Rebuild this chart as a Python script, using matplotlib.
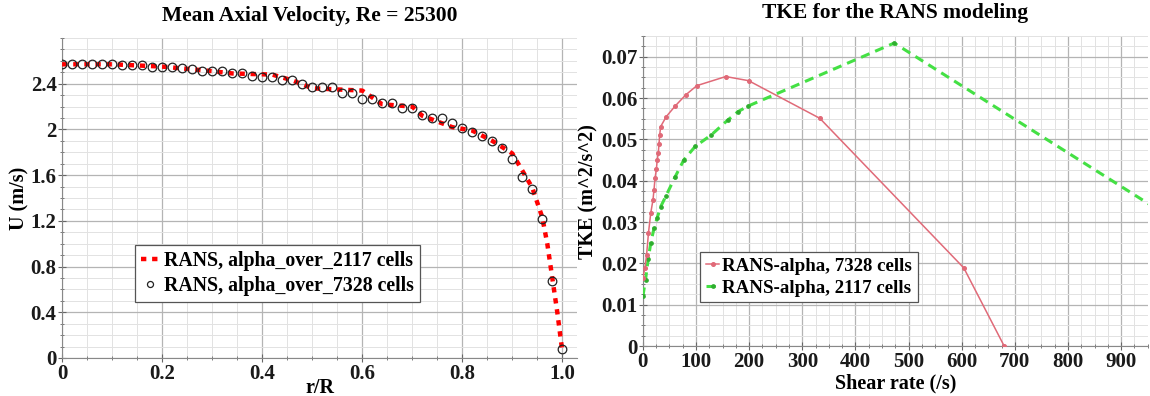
import matplotlib
matplotlib.use("Agg")
import matplotlib.pyplot as plt
from matplotlib.ticker import MultipleLocator

plt.rcParams['font.family'] = ['Liberation Serif', 'DejaVu Serif']
plt.rcParams['font.weight'] = 'bold'

# ---- left panel: mean axial velocity ----
r_7328 = [0.00, 0.02, 0.04, 0.06, 0.08, 0.10, 0.12, 0.14, 0.16, 0.18,
          0.20, 0.22, 0.24, 0.26, 0.28, 0.30, 0.32, 0.34, 0.36, 0.38,
          0.40, 0.42, 0.44, 0.46, 0.48, 0.50, 0.52, 0.54, 0.56, 0.58,
          0.60, 0.62, 0.64, 0.66, 0.68, 0.70, 0.72, 0.74, 0.76, 0.78,
          0.80, 0.82, 0.84, 0.86, 0.88, 0.90, 0.92, 0.94, 0.96, 0.98, 1.00]
u_7328 = [2.57, 2.57, 2.57, 2.57, 2.57, 2.57, 2.565, 2.56, 2.56, 2.55,
          2.55, 2.55, 2.54, 2.53, 2.51, 2.51, 2.51, 2.49, 2.49, 2.47,
          2.46, 2.46, 2.43, 2.43, 2.40, 2.37, 2.37, 2.37, 2.32, 2.32,
          2.27, 2.27, 2.23, 2.23, 2.19, 2.19, 2.13, 2.10, 2.10, 2.06,
          2.01, 1.98, 1.94, 1.90, 1.84, 1.74, 1.58, 1.48, 1.22, 0.67, 0.08]

r_2117 = [0.00, 0.10, 0.20, 0.30, 0.34, 0.42, 0.46, 0.50, 0.60, 0.64,
          0.70, 0.72, 0.78, 0.82, 0.86, 0.90, 0.94, 0.96, 0.97, 0.98, 0.99, 1.00]
u_2117 = [2.57, 2.57, 2.55, 2.51, 2.49, 2.48, 2.43, 2.36, 2.34, 2.22,
          2.20, 2.12, 2.02, 1.99, 1.90, 1.79, 1.49, 1.23, 1.00, 0.70, 0.40, 0.06]

# ---- right panel: TKE vs shear rate ----
shear_7328 = [0, 4, 7, 10.6, 15, 19, 21, 23, 25.5, 27, 29, 30.4, 31.7, 33.5,
              44, 61, 81, 101.6, 156, 199, 333, 604, 680]
tke_7328 = [0.0165, 0.019, 0.022, 0.0274, 0.0323, 0.0353, 0.0378, 0.0407,
            0.0428, 0.045, 0.0466, 0.0489, 0.0511, 0.0531, 0.0555, 0.0581,
            0.0608, 0.063, 0.0652, 0.0642, 0.0551, 0.0189, 0.0]

shear_2117 = [0, 5, 10, 15, 21, 27, 33.5, 43, 61, 77, 98.5, 129, 160, 179,
              197, 473, 1000]
tke_2117 = [0.012, 0.016, 0.021, 0.025, 0.0285, 0.031, 0.0337, 0.0362,
            0.041, 0.045, 0.0483, 0.0511, 0.0547, 0.0567, 0.058, 0.0733, 0.0305]

fig = plt.figure(figsize=(11.5, 3.96), dpi=100)
ax1 = fig.add_axes([0.054, 0.096, 0.448, 0.808])
ax2 = fig.add_axes([0.559, 0.126, 0.439, 0.783])


def style_grid(ax):
    ax.grid(True, which='major', color='#b4b4b4', linewidth=0.9)
    ax.grid(True, which='minor', color='#e2e2e2', linewidth=0.7)
    ax.set_axisbelow(True)
    for side in ('top', 'right'):
        ax.spines[side].set_visible(False)
    ax.spines['left'].set_color('#888888')
    ax.spines['bottom'].set_color('#888888')
    ax.tick_params(which='both', direction='inout', colors='#666666',
                   labelcolor='#1a1a1a', labelsize=15)
    ax.tick_params(which='major', length=6, pad=1)
    ax.tick_params(which='minor', length=3)
    for lab in ax.get_xticklabels() + ax.get_yticklabels():
        lab.set_fontweight('bold')


# left
ax1.plot(r_2117, u_2117, color='red', linestyle=(0, (1.2, 1.3)), linewidth=3.2,
         label='RANS, alpha_over_2117 cells', zorder=3)
ax1.plot(r_7328, u_7328, linestyle='none', marker='o', markersize=6.2,
         markerfacecolor='none', markeredgecolor='#222222', markeredgewidth=0.9,
         label='RANS, alpha_over_7328 cells', zorder=4)
ax1.set_xlim(0, 1.03)
ax1.set_ylim(0, 2.8)
ax1.xaxis.set_minor_locator(MultipleLocator(0.05))
ax1.yaxis.set_minor_locator(MultipleLocator(0.1))
ax1.set_xticks([0, 0.2, 0.4, 0.6, 0.8, 1.0])
ax1.set_xticklabels(['0', '0.2', '0.4', '0.6', '0.8', '1.0'])
ax1.set_yticks([0, 0.4, 0.8, 1.2, 1.6, 2.0, 2.4])
ax1.set_yticklabels(['0', '0.4', '0.8', '1.2', '1.6', '2', '2.4'])
style_grid(ax1)
ax1.set_title('Mean Axial Velocity, Re = 25300', fontsize=15.5, fontweight='bold',
              pad=12, x=0.48)
ax1.set_xlabel('r/R', fontsize=14.5, fontweight='bold', labelpad=-4)
ax1.set_ylabel('U (m/s)', fontsize=14.5, fontweight='bold', labelpad=1)
leg1 = ax1.legend(loc='upper left', bbox_to_anchor=(0.123, 0.385),
                  prop={'weight': 'bold', 'size': 14.3}, frameon=True, fancybox=False,
                  edgecolor='#555555', framealpha=1, handlelength=0.9,
                  handletextpad=0.25, borderpad=0.3, labelspacing=0.25,
                  markerscale=0.7)
leg1.get_frame().set_linewidth(0.9)

# right
ax2.plot(shear_7328, tke_7328, color='#e06a78', linewidth=1.1, marker='o',
         markersize=2.6, label='RANS-alpha, 7328 cells', zorder=4)
ax2.plot(shear_2117, tke_2117, color='#44e044', linewidth=2.2, linestyle=(0, (3, 2)),
         marker='o', markersize=2.4, markerfacecolor='#2fae2f', markeredgecolor='#2fae2f',
         label='RANS-alpha, 2117 cells', zorder=3)
ax2.set_xlim(0, 950)
ax2.set_ylim(0, 0.075)
ax2.xaxis.set_minor_locator(MultipleLocator(25))
ax2.yaxis.set_minor_locator(MultipleLocator(0.0025))
ax2.set_yticks([0, 0.01, 0.02, 0.03, 0.04, 0.05, 0.06, 0.07])
ax2.set_yticklabels(['0', '0.01', '0.02', '0.03', '0.04', '0.05', '0.06', '0.07'])
ax2.set_xticks(range(0, 1000, 100))
ax2.set_xticklabels([str(v) for v in range(0, 1000, 100)])
style_grid(ax2)
ax2.set_title('TKE for the RANS modeling', fontsize=15.5, fontweight='bold', pad=13)
ax2.set_xlabel('Shear rate (/s)', fontsize=14.5, fontweight='bold', labelpad=1)
ax2.set_ylabel('TKE (m^2/s^2)', fontsize=14.5, fontweight='bold', labelpad=2)
leg2 = ax2.legend(loc='upper left', bbox_to_anchor=(0.095, 0.335),
                  prop={'weight': 'bold', 'size': 13.6}, frameon=True, fancybox=False,
                  edgecolor='#555555', framealpha=1, handlelength=0.7,
                  handletextpad=0.15, borderpad=0.3, labelspacing=0.25)
leg2.get_frame().set_linewidth(0.9)

fig.savefig('out.png', dpi=100)
